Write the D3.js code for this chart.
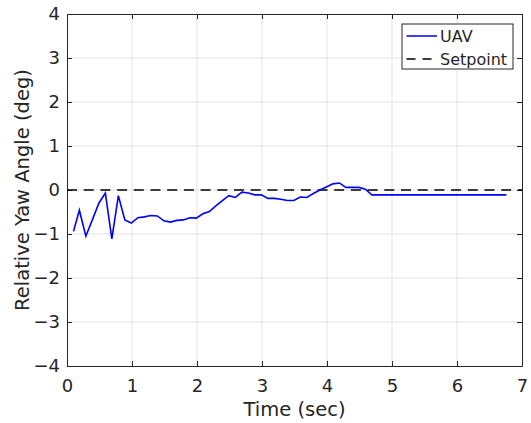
<!DOCTYPE html>
<html>
<head>
<meta charset="utf-8">
<script src="https://cdn.jsdelivr.net/npm/d3@7"></script>
<style>
body { margin: 0; background: #fff; }
svg text { font-family: "DejaVu Sans", "Liberation Sans", sans-serif; fill: #262626; }
</style>
</head>
<body>
<div class="container"></div>
<script>
// yaw response data
const timeVals = [0.1, 0.19, 0.29, 0.39, 0.49, 0.59, 0.69, 0.79, 0.89, 0.99, 1.09, 1.19, 1.29, 1.39,
  1.49, 1.59, 1.69, 1.79, 1.89, 1.99, 2.09, 2.19, 2.29, 2.39, 2.49, 2.59, 2.69, 2.79, 2.89, 2.99,
  3.09, 3.19, 3.29, 3.39, 3.49, 3.59, 3.69, 3.79, 3.89, 3.99, 4.09, 4.19, 4.29, 4.39, 4.49, 4.59,
  4.69, 6.76]
const yawVals = [-0.94, -0.46, -1.05, -0.68, -0.30, -0.07, -1.11, -0.13, -0.68, -0.75, -0.63, -0.61,
  -0.58, -0.59, -0.70, -0.73, -0.69, -0.68, -0.63, -0.64, -0.54, -0.49, -0.36, -0.24, -0.13, -0.17,
  -0.05, -0.07, -0.11, -0.11, -0.19, -0.19, -0.21, -0.24, -0.24, -0.16, -0.17, -0.08, 0.0, 0.07,
  0.14, 0.16, 0.06, 0.06, 0.06, 0.02, -0.11, -0.11]
const setpointT = [0, 7]
const setpointVals = [0, 0]
const xTicks = [0, 1, 2, 3, 4, 5, 6, 7]
const yTicks = [-4, -3, -2, -1, 0, 1, 2, 3, 4]
const seriesNames = ["UAV", "Setpoint"]

const w = 531
const h = 423
const m = {left: 67, right: 9, top: 14, bottom: 57}

const svg = d3.select(".container").append("svg")
  .attr("width", w)
  .attr("height", h)

const xScale = d3.scaleLinear().domain([0, 7]).range([m.left, w - m.right])
const yScale = d3.scaleLinear().domain([-4, 4]).range([h - m.bottom, m.top])

// grid
svg.append("g").selectAll("line").data(xTicks.slice(1, -1)).enter().append("line")
  .attr("x1", d => xScale(d)).attr("x2", d => xScale(d))
  .attr("y1", m.top).attr("y2", h - m.bottom)
  .attr("stroke", "#e3e3e3").attr("stroke-width", 1)
svg.append("g").selectAll("line").data(yTicks.slice(1, -1)).enter().append("line")
  .attr("y1", d => yScale(d)).attr("y2", d => yScale(d))
  .attr("x1", m.left).attr("x2", w - m.right)
  .attr("stroke", "#e3e3e3").attr("stroke-width", 1)

const fmt = d => d < 0 ? "\u2212" + Math.abs(d) : "" + d

// axes with inward ticks
const xAxis = d3.axisBottom(xScale).tickValues(xTicks).tickSizeInner(-5).tickSizeOuter(0).tickPadding(13).tickFormat(fmt)
const yAxis = d3.axisLeft(yScale).tickValues(yTicks).tickSizeInner(-5).tickSizeOuter(0).tickPadding(7).tickFormat(fmt)
const xTop = d3.axisTop(xScale).tickValues(xTicks).tickSizeInner(-5).tickSizeOuter(0).tickFormat("")
const yRight = d3.axisRight(yScale).tickValues(yTicks).tickSizeInner(-5).tickSizeOuter(0).tickFormat("")

svg.append("g").attr("transform", "translate(0," + (h - m.bottom) + ")").call(xAxis)
svg.append("g").attr("transform", "translate(" + m.left + ",0)").call(yAxis)
svg.append("g").attr("transform", "translate(0," + m.top + ")").call(xTop)
svg.append("g").attr("transform", "translate(" + (w - m.right) + ",0)").call(yRight)

svg.selectAll(".domain").attr("stroke", "#262626").attr("stroke-width", 1)
svg.selectAll(".tick line").attr("stroke", "#262626")
svg.selectAll(".tick text").style("font-size", "18px").attr("fill", "#262626")
  .style("font-family", "'DejaVu Sans', sans-serif")

// lines
const line = d3.line().x(d => xScale(d[0])).y(d => yScale(d[1]))
svg.append("path")
  .datum(setpointT.map((t, i) => [t, setpointVals[i]]))
  .attr("d", line)
  .attr("fill", "none").attr("stroke", "#000").attr("stroke-width", 1.5)
  .attr("stroke-dasharray", "10,6.7")
svg.append("path")
  .datum(timeVals.map((t, i) => [t, yawVals[i]]))
  .attr("d", line)
  .attr("fill", "none").attr("stroke", "#0000ff").attr("stroke-width", 1.6)

// labels
svg.append("text")
  .attr("x", (m.left + w - m.right) / 2)
  .attr("y", 416)
  .style("text-anchor", "middle")
  .style("font-size", "19.5px")
  .text("Time (sec)")
svg.append("text")
  .attr("transform", "rotate(-90)")
  .attr("x", -(m.top + h - m.bottom) / 2)
  .attr("y", 29)
  .style("text-anchor", "middle")
  .style("font-size", "19.5px")
  .text("Relative Yaw Angle (deg)")

// legend
const lg = svg.append("g").attr("transform", "translate(402,24)")
lg.append("rect").attr("width", 111).attr("height", 45)
  .attr("fill", "#fff").attr("stroke", "#262626").attr("stroke-width", 1)
const lgStyles = [{c: "#0000ff", dash: null}, {c: "#000", dash: "9,7"}]
seriesNames.forEach((name, i) => {
  const yy = 12 + i * 23
  lg.append("line").attr("x1", 4.5).attr("x2", 35).attr("y1", yy).attr("y2", yy)
    .attr("stroke", lgStyles[i].c).attr("stroke-width", 1.5)
    .attr("stroke-dasharray", lgStyles[i].dash)
  lg.append("text").attr("x", 38).attr("y", yy + 5.5)
    .style("font-size", "16px").text(name)
})
</script>
</body>
</html>
